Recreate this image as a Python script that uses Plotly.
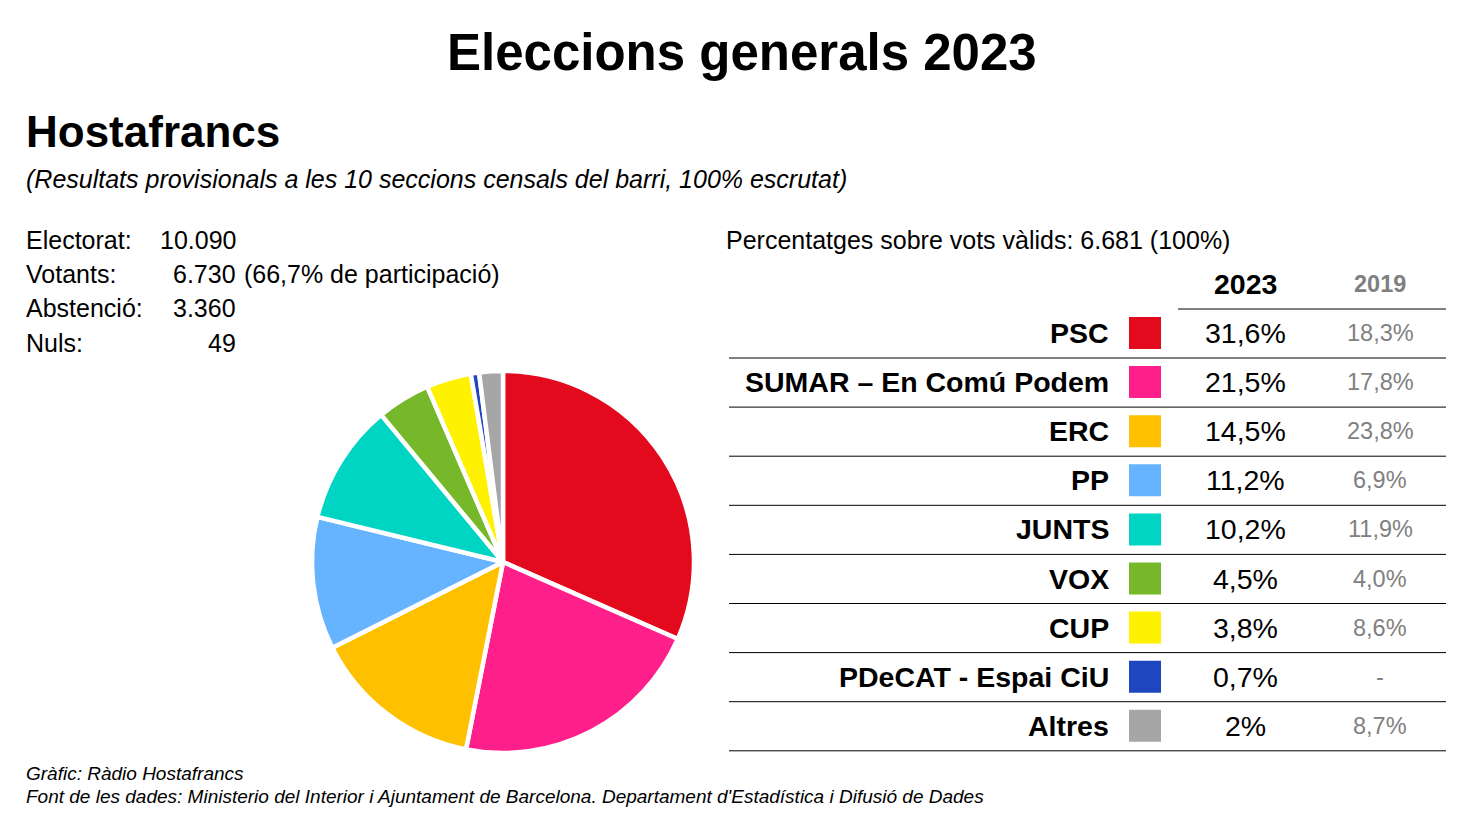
import plotly.graph_objects as go

W, H = 1478, 831
OFF = 8  # page body margin shifts the figure

parties = ["PSC", "SUMAR – En Comú Podem", "ERC", "PP", "JUNTS", "VOX", "CUP",
           "PDeCAT - Espai CiU", "Altres"]
vots_2023 = [31.6, 21.5, 14.5, 11.2, 10.2, 4.5, 3.8, 0.7, 2.0]
labels_2023 = ["31,6%", "21,5%", "14,5%", "11,2%", "10,2%", "4,5%", "3,8%", "0,7%", "2%"]
labels_2019 = ["18,3%", "17,8%", "23,8%", "6,9%", "11,9%", "4,0%", "8,6%", "-", "8,7%"]
colors = ["#E20A1C", "#FF1F8A", "#FFC000", "#66B3FF", "#00D5C3", "#77B72A",
          "#FFF200", "#1E47BF", "#A6A6A6"]

stats_names = ["Electorat:", "Votants:", "Abstenció:", "Nuls:"]
stats_values = ["10.090", "6.730", "3.360", "49"]
stats_extra = ["", " (66,7% de participació)", "", ""]

FONT = "Liberation Sans, Arial, sans-serif"


def px(x):
    return (x - OFF) / W


def py(y):
    return 1 - (y - OFF) / H


fig = go.Figure()
fig.add_trace(go.Pie(
    values=vots_2023, labels=parties, sort=False, direction="clockwise",
    rotation=0, textinfo="none", showlegend=False,
    marker=dict(colors=colors, line=dict(color="white", width=4.5)),
    domain=dict(x=[px(312), px(694)], y=[py(753), py(371)]),
))

ann = []


def txt(x, y, s, size, anchor="left", bold=False, italic=False, color="black"):
    if bold:
        s = "<b>" + s + "</b>"
    if italic:
        s = "<i>" + s + "</i>"
    ann.append(dict(x=px(x), y=py(y), xref="paper", yref="paper", text=s,
                    showarrow=False, xanchor=anchor, yanchor="middle",
                    font=dict(family=FONT, size=size, color=color)))


txt(742, 53, "Eleccions generals 2023", 51, anchor="center", bold=True)
txt(24, 132, "Hostafrancs", 44, bold=True)
txt(24, 179, "(Resultats provisionals a les 10 seccions censals del barri, 100% escrutat)",
    25, italic=True)

for i, name in enumerate(stats_names):
    y = 240 + i * 34.2
    txt(24, y, name, 25)
    txt(238, y, stats_values[i], 25, anchor="right")
    if stats_extra[i]:
        txt(235, y, stats_extra[i], 25)

txt(724, 240, "Percentatges sobre vots vàlids: 6.681 (100%)", 25)
txt(1245, 284, "2023", 28.5, anchor="center", bold=True)
txt(1380, 284, "2019", 23.5, anchor="center", bold=True, color="#808080")

shapes = [dict(type="line", xref="paper", yref="paper", x0=px(1178), x1=px(1446),
               y0=py(309), y1=py(309), line=dict(color="black", width=1))]

for i, p in enumerate(parties):
    yc = 333 + i * 49.1
    txt(1111, yc, p, 28.5, anchor="right", bold=True)
    txt(1245, yc, labels_2023[i], 28.5, anchor="center")
    txt(1380, yc, labels_2019[i], 23.5, anchor="center", color="#808080")
    shapes.append(dict(type="rect", xref="paper", yref="paper",
                       x0=px(1129), x1=px(1161), y0=py(yc + 16), y1=py(yc - 16),
                       fillcolor=colors[i], line=dict(width=0)))
    shapes.append(dict(type="line", xref="paper", yref="paper", x0=px(729), x1=px(1446),
                       y0=py(yc + 25), y1=py(yc + 25), line=dict(color="black", width=1)))

txt(24, 773, "Gràfic: Ràdio Hostafrancs", 19, italic=True)
txt(24, 796, "Font de les dades: Ministerio del Interior i Ajuntament de Barcelona. "
    "Departament d'Estadística i Difusió de Dades", 19, italic=True)

fig.update_layout(
    width=W, height=H, margin=dict(l=0, r=0, t=0, b=0),
    paper_bgcolor="white", plot_bgcolor="white",
    annotations=ann, shapes=shapes,
)

fig.write_html("out.html")
